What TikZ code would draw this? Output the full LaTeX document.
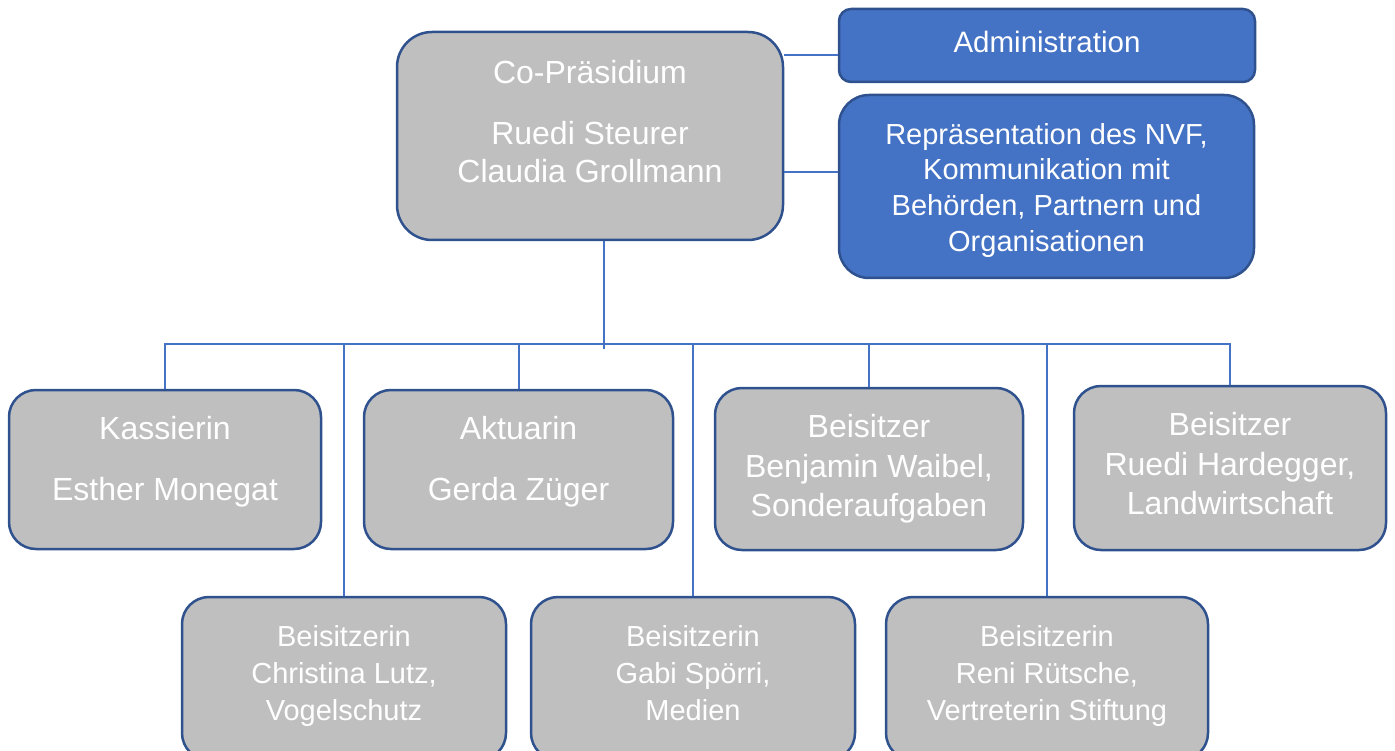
\documentclass[tikz,border=0pt]{standalone}
\usepackage{fontspec}
\setmainfont{Liberation Sans}
\definecolor{boxgrey}{HTML}{BFBFBF}
\definecolor{boxblue}{HTML}{4472C4}
\definecolor{rimblue}{HTML}{2F528F}
\definecolor{linkblue}{HTML}{4472C4}
\begin{document}
\begin{tikzpicture}[x=1pt,y=-1pt,
		box/.style={draw=rimblue, line width=2.5pt, fill=boxgrey, rounded corners=#1, inner sep=0pt},
		box/.default=27pt,
		bluebox/.style={box=#1, fill=boxblue},
		bluebox/.default=30pt,
		txt/.style={text=white, align=center, inner sep=0pt,
			execute at begin node=\strut, execute at end node=\strut},
		bigtxt/.style={txt, font=\fontsize{32}{38}\selectfont},
		widetxt/.style={txt, font=\fontsize{32}{39.5}\selectfont},
		smalltxt/.style={txt, font=\fontsize{29}{37}\selectfont},
		link/.style={draw=linkblue, line width=2pt}]

		\useasboundingbox (0,0) rectangle (1395,751);

		\coordinate (bar) at (604,344);
		\coordinate (trunkend) at (604,349);

		%% Boxes %%
		% top
		\node[box=35pt, minimum width=386pt, minimum height=208pt] (praes) at (590,136) {};
		\node[bigtxt] (praestxt) at (590,127) {Co-Präsidium\\[23pt]Ruedi Steurer\\Claudia Grollmann};
		\node[bluebox=12pt, minimum width=416pt, minimum height=73pt] (admin) at (1047,45.5) {};
		\node[txt, font=\fontsize{29.5}{35}\selectfont] (admintxt) at (1047,46) {Administration};
		\node[bluebox, minimum width=415pt, minimum height=183pt] (repr) at (1046.5,186.5) {};
		\node[txt, font=\fontsize{29}{35.7}\selectfont] (reprtxt) at (1046.5,192.5)
			{Repräsentation des NVF,\\Kommunikation mit\\Behörden, Partnern und\\Organisationen};
		% first row
		\node[box, minimum width=312pt, minimum height=159pt] (kass) at (165,469.5) {};
		\node[bigtxt] (kasstxt) at (165,464) {Kassierin\\[23pt]Esther Monegat};
		\node[box, minimum width=309pt, minimum height=159pt] (aktu) at (518.5,469.5) {};
		\node[bigtxt] (aktutxt) at (518.5,464) {Aktuarin\\[23pt]Gerda Züger};
		\node[box, minimum width=308pt, minimum height=162pt] (waib) at (869,469) {};
		\node[widetxt] (waibtxt) at (869,471.5) {Beisitzer\\Benjamin Waibel,\\Sonderaufgaben};
		\node[box, minimum width=312pt, minimum height=164pt] (hard) at (1230,468) {};
		\node[widetxt] (hardtxt) at (1230,469.5) {Beisitzer\\Ruedi Hardegger,\\Landwirtschaft};
		% second row
		\node[box, minimum width=324pt, minimum height=163pt] (lutz) at (344,678.5) {};
		\node[smalltxt] (lutztxt) at (344,679) {Beisitzerin\\Christina Lutz,\\Vogelschutz};
		\node[box, minimum width=324pt, minimum height=163pt] (spoe) at (693,678.5) {};
		\node[smalltxt] (spoetxt) at (693,679) {Beisitzerin\\Gabi Spörri,\\Medien};
		\node[box, minimum width=322pt, minimum height=163pt] (ruet) at (1047,678.5) {};
		\node[smalltxt] (ruettxt) at (1047,679) {Beisitzerin\\Reni Rütsche,\\Vertreterin Stiftung};

		%% Connectors %%
		\draw[link] ([yshift=-10pt]admin.west) -- ([yshift=-10pt]admin.west -| praes.east);
		\draw[link] ([yshift=14.5pt]repr.west) -- ([yshift=14.5pt]repr.west -| praes.east);
		\draw[link] ([xshift=14pt]praes.south) -- (trunkend);
		\draw[link] (kass.north) -- (kass.north |- bar) -- (hard.north |- bar) -- (hard.north);
		\foreach \n in {lutz,aktu,spoe,waib,ruet}
			\draw[link] (\n.north) -- (\n.north |- bar);

\end{tikzpicture}
\end{document}
